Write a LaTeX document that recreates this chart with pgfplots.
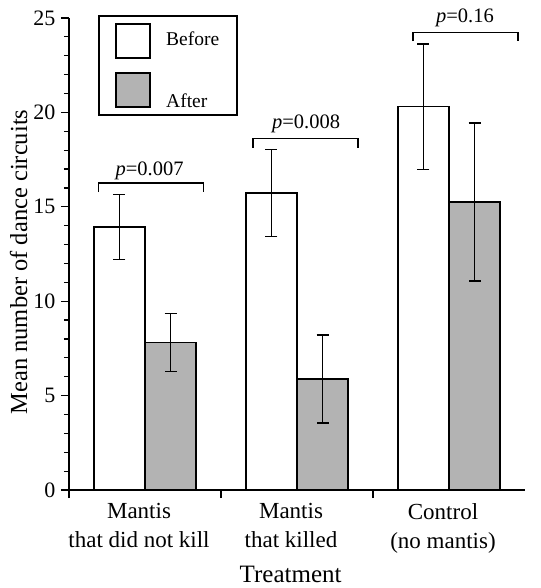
\documentclass[border=0pt]{standalone}
\usepackage{fontspec}
\setmainfont{Liberation Serif}
\usepackage{pgfplots}
\pgfplotsset{compat=1.18}
\definecolor{afterGray}{RGB}{179,179,179}

\begin{document}
\begin{tikzpicture}
\begin{axis}[
    scale only axis,
    width=456pt, height=472pt,
    xmin=0.5, xmax=3.5,
    ymin=0, ymax=25,
    axis lines*=left,
    axis line style={line width=1.4pt},
    every tick/.style={black, line width=1.2pt},
    tick align=outside,
    major tick length=8pt,
    minor tick length=5pt,
    ytick={0,5,10,15,20,25},
    minor y tick num=4,
    xtick={0.5,1.5,2.5},
    xticklabels={},
    extra x ticks={1,2,3},
    extra x tick labels={Mantis\\that did not kill, Mantis\\that killed, Control\\(no mantis)},
    extra x tick style={major tick length=0pt,
        xticklabel style={align=center, font=\fontsize{23}{29}\selectfont, xshift=-6pt, yshift=-10pt}},
    /pgf/number format/assume math mode=true,
    yticklabel style={font=\fontsize{22}{22}\selectfont, xshift=-2pt},
    ylabel={Mean number of dance circuits},
    ylabel style={at={(axis description cs:-0.092,0.483)}, anchor=base, font=\fontsize{24.5}{24.5}\selectfont},
    xlabel={Treatment},
    xlabel style={at={(axis description cs:0.486,-0.195)}, anchor=base, font=\fontsize{25}{25}\selectfont},
    ybar,
    bar width=0.336,
    clip=false,
    error bars/error bar style={line width=1.4pt, black},
    error bars/error mark options={line width=1.4pt, black, mark size=6pt, rotate=90},
]
% Before
\addplot[fill=white, draw=black, line width=1.5pt, bar shift=-0.168,
    error bars/.cd, y dir=both, y explicit]
coordinates {
    (1, 13.92) +- (0, 1.72)
    (2, 15.73) +- (0, 2.30)
    (3, 20.30) +- (0, 3.32)
};
% After
\addplot[fill=afterGray, draw=black, line width=1.5pt, bar shift=0.168,
    error bars/.cd, y dir=both, y explicit]
coordinates {
    (1, 7.81) +- (0, 1.54)
    (2, 5.87) +- (0, 2.33)
    (3, 15.25) +- (0, 4.19)
};

% significance brackets
\draw[line width=1.3pt] (axis cs:0.695,15.78) -- (axis cs:0.695,16.26) -- (axis cs:1.386,16.26) -- (axis cs:1.386,15.78);
\draw[line width=1.3pt] (axis cs:1.711,18.12) -- (axis cs:1.711,18.60) -- (axis cs:2.401,18.60) -- (axis cs:2.401,18.12);
\draw[line width=1.3pt] (axis cs:2.763,23.77) -- (axis cs:2.763,24.25) -- (axis cs:3.454,24.25) -- (axis cs:3.454,23.77);
\node[anchor=base, font=\fontsize{20.5}{20.5}\selectfont] at (axis cs:1.030,16.67) {\textit{p}=0.007};
\node[anchor=base, font=\fontsize{20.5}{20.5}\selectfont] at (axis cs:2.060,19.15) {\textit{p}=0.008};
\node[anchor=base, font=\fontsize{20.5}{20.5}\selectfont] at (axis cs:3.105,24.78) {\textit{p}=0.16};

% legend
\draw[line width=1.4pt, fill=white] (axis description cs:0.0658,0.7945) rectangle (axis description cs:0.3684,1.0042);
\draw[line width=1.4pt, fill=white] (axis description cs:0.1031,0.9153) rectangle (axis description cs:0.1776,0.9873);
\draw[line width=1.4pt, fill=afterGray] (axis description cs:0.1031,0.8114) rectangle (axis description cs:0.1776,0.8835);
\node[anchor=base west, inner sep=0pt, font=\fontsize{19.5}{19.5}\selectfont] at (axis description cs:0.2127,0.9407) {Before};
\node[anchor=base west, inner sep=0pt, font=\fontsize{19.5}{19.5}\selectfont] at (axis description cs:0.2127,0.8114) {After};
\end{axis}
\pgfresetboundingbox
\path[use as bounding box] (-69pt,-98pt) rectangle (471pt,490pt);
\end{tikzpicture}
\end{document}
